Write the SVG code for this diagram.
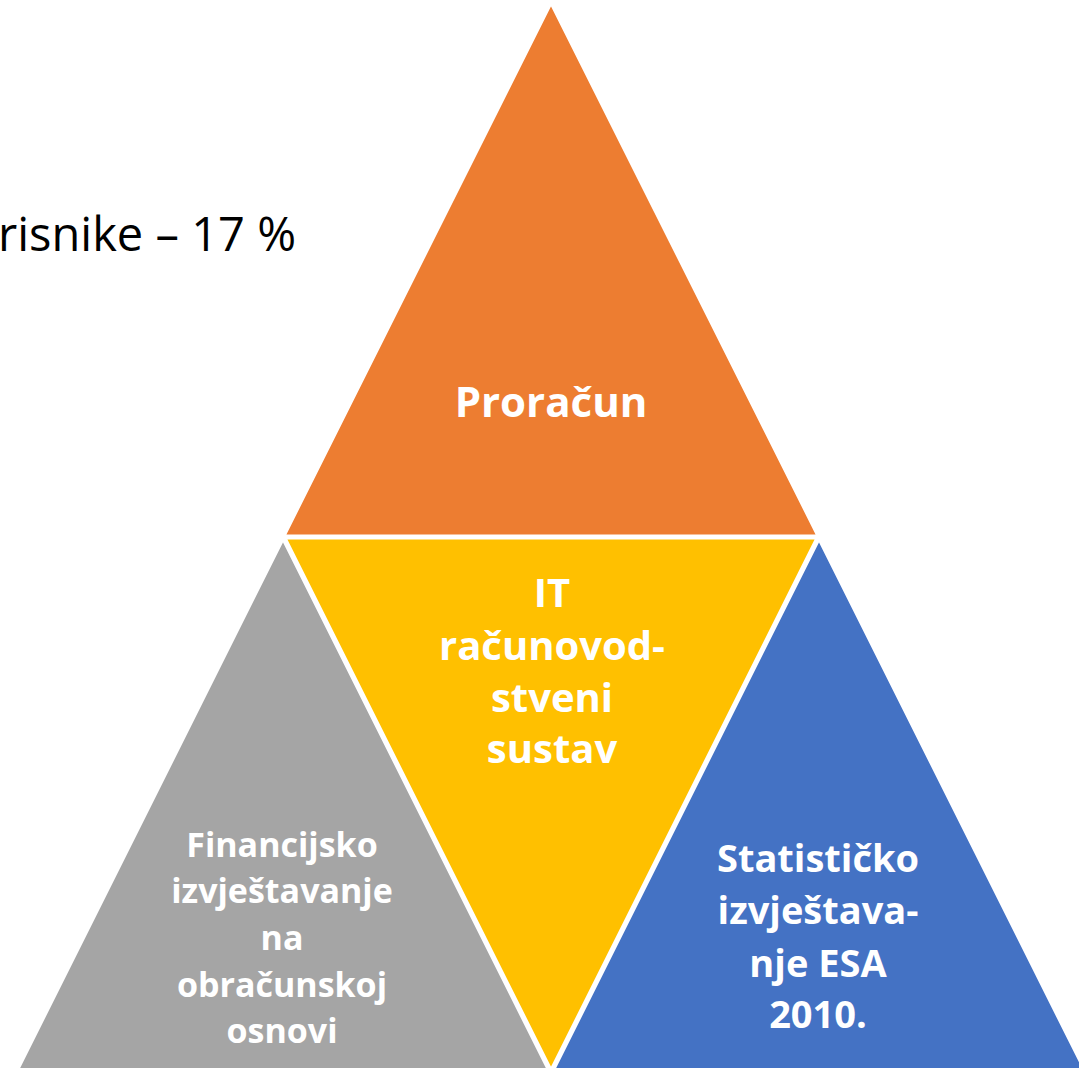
<svg xmlns="http://www.w3.org/2000/svg" width="1079" height="1068" viewBox="0 0 1079 1068">
<style>
.tri{stroke:#FFFFFF;stroke-width:3;stroke-linejoin:miter}
.lbl{font-family:"Open Sans","DejaVu Sans",sans-serif;font-weight:bold;fill:#FFFFFF;text-anchor:middle}
.note{font-family:"Open Sans","Liberation Sans",sans-serif;fill:#000000;text-anchor:end}
</style>
<rect width="1079" height="1068" fill="#FFFFFF"/>
<text class="note" x="296" y="251" font-size="47">risnike – 17 %</text>
<g id="proracun">
<polygon class="tri" fill="#ED7D31" points="551,3 818,536 284,536"/>
<text class="lbl" x="551" y="417" font-size="42">Proračun</text>
</g>
<g id="it-sustav">
<polygon class="tri" fill="#FFC000" points="285,538 817,538 551,1070"/>
<text class="lbl" font-size="40"><tspan x="552" y="607">IT</tspan><tspan x="552" y="660">računovod-</tspan><tspan x="552" y="712">stveni</tspan><tspan x="552" y="763">sustav</tspan></text>
</g>
<g id="financijsko">
<polygon class="tri" fill="#A5A5A5" points="283,539 549,1071 17,1071"/>
<text class="lbl" font-size="34"><tspan x="282" y="857">Financijsko</tspan><tspan x="282" y="903">izvještavanje</tspan><tspan x="282" y="950">na</tspan><tspan x="282" y="997">obračunskoj</tspan><tspan x="282" y="1043">osnovi</tspan></text>
</g>
<g id="statisticko">
<polygon class="tri" fill="#4472C4" points="819,539 1085,1071 553,1071"/>
<text class="lbl" font-size="38"><tspan x="818" y="872">Statističko</tspan><tspan x="818" y="924">izvještava-</tspan><tspan x="818" y="977">nje ESA</tspan><tspan x="818" y="1028">2010.</tspan></text>
</g>
<g id="connectors"></g>
</svg>
